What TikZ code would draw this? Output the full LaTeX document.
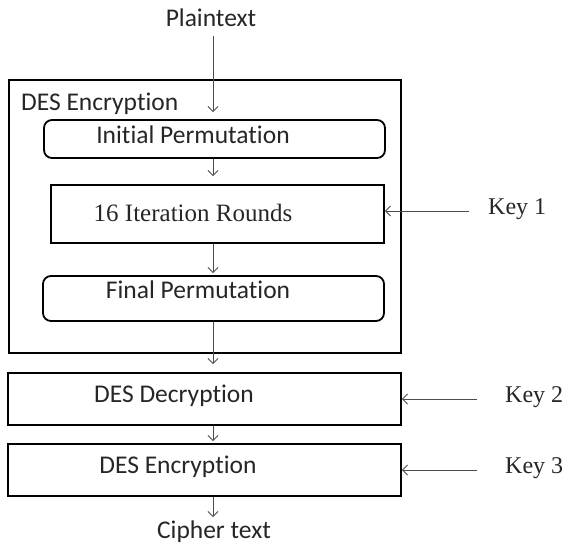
\documentclass[tikz,border=0pt]{standalone}
\usepackage{fontspec}
\setmainfont[Ligatures={NoCommon}]{Carlito}
\newfontfamily\timesfont{Liberation Serif}
\usetikzlibrary{arrows.meta}
\begin{document}
\begin{tikzpicture}[x=1pt,y=-1pt,
  box/.style={draw=black, line width=1.8pt, inner sep=0pt},
  rbox/.style={box, rounded corners=8pt},
  lbl/.style={inner sep=0pt, anchor=base, text=black!85, font=\fontsize{25.5}{30}\selectfont},
  serlbl/.style={inner sep=0pt, anchor=base, text=black!85, font=\timesfont\fontsize{25}{30}\selectfont},
  keylbl/.style={inner sep=0pt, anchor=base west, text=black!85, font=\timesfont\fontsize{24}{28}\selectfont},
  flow/.style={draw=black!70, line width=0.9pt, -{Straight Barb[length=5pt,width=10pt]}}
]
\useasboundingbox (0,0) rectangle (565,544);

% column along which the data flows
\coordinate (axis) at (213,0);

% triple DES stages
\node[box, minimum width=392pt, minimum height=273pt] (enc1) at (205,216.5) {};
\node[rbox, minimum width=341pt, minimum height=38pt] (ip) at (214.5,139) {};
\node[box, minimum width=333pt, minimum height=58pt] (iter) at (217.5,214) {};
\node[rbox, minimum width=341pt, minimum height=45pt] (fp) at (213.5,298.5) {};
\node[box, minimum width=393pt, minimum height=52pt] (dec) at (204.5,399) {};
\node[box, minimum width=393pt, minimum height=52pt] (enc2) at (204.5,470) {};

% texts
\node[lbl] (plain) at (211,26) {Plaintext};
\node[lbl, anchor=base west] (enc1lbl) at (21,110) {DES Encryption};
\node[lbl] (iplbl) at (193,143) {Initial Permutation};
\node[serlbl] (iterlbl) at (193,221) {16 Iteration Rounds};
\node[lbl] (fplbl) at (198,298) {Final Permutation};
\node[lbl] (declbl) at (174,402) {DES Decryption};
\node[lbl] (enc2lbl) at (178,473) {DES Encryption};
\node[lbl] (cipher) at (214,538) {Cipher text};

% keys
\node[keylbl] (k1) at (488,214) {Key 1};
\node[keylbl] (k2) at (505,402) {Key 2};
\node[keylbl] (k3) at (505,473) {Key 3};
\coordinate (k1in) at (469,211);
\coordinate (k2in) at (477,399);
\coordinate (k3in) at (477,470);

% data flow
\draw[flow, shorten <=10pt, shorten >=7pt] (plain.south -| axis) -- (ip.north -| axis);
\draw[flow, shorten >=8pt] (ip.south -| axis) -- (iter.north -| axis);
\draw[flow, shorten >=2pt] (iter.south -| axis) -- (fp.north -| axis);
\draw[flow, shorten >=8pt] (fp.south -| axis) -- (dec.north -| axis);
\draw[flow, shorten >=2pt] (dec.south -| axis) -- (enc2.north -| axis);
\draw[flow, shorten >=3pt] (enc2.south -| axis) -- (cipher.north -| axis);

% key inputs
\draw[flow] (k1in) -- (iter.east |- k1in);
\draw[flow] (k2in) -- (dec.east |- k2in);
\draw[flow] (k3in) -- (enc2.east |- k3in);
\end{tikzpicture}
\end{document}
